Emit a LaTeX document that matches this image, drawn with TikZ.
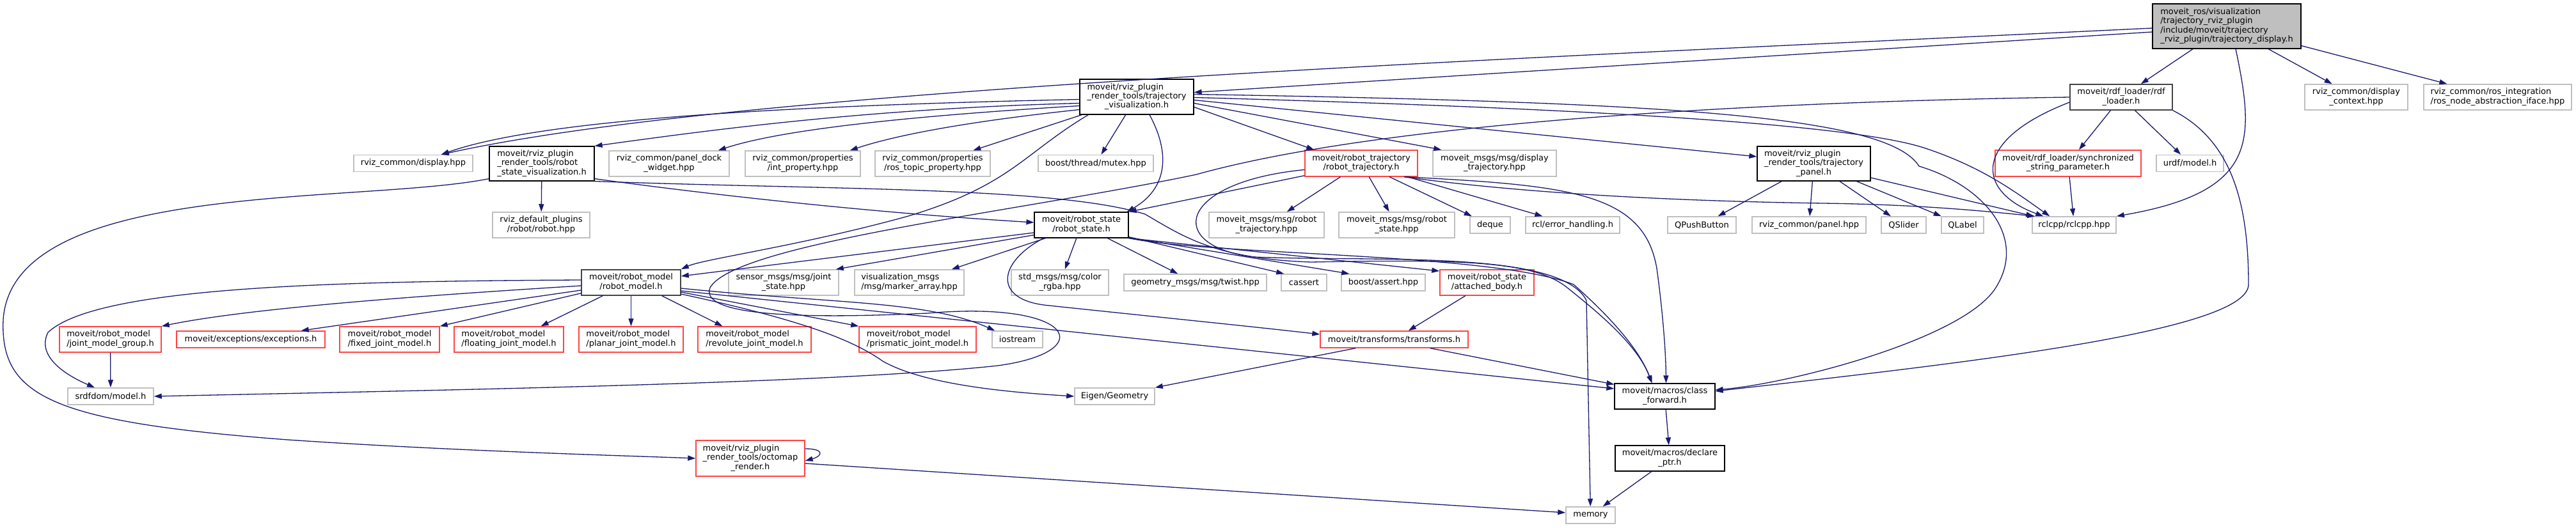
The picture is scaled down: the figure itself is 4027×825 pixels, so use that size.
\documentclass[tikz,border=0pt]{standalone}
\usepackage{fontspec}
\setmainfont{DejaVu Sans}
\usetikzlibrary{arrows.meta, calc}
\definecolor{edgeblue}{HTML}{191970}
\definecolor{boxgrey}{HTML}{BFBFBF}
\definecolor{boxred}{HTML}{FF4444}
\definecolor{boxdark}{HTML}{444444}
% lines above the last one flush left, last one centred
\newcommand{\lbl}[2]{\begin{tabular}{@{}l@{}}#1\\\multicolumn{1}{@{}c@{}}{#2}\end{tabular}}

\begin{document}
\begin{tikzpicture}[x=1pt, y=-1pt, font=\fontsize{13}{14.3}\selectfont,
  every node/.style={inner sep=0pt},
  extbox/.style={draw=boxgrey, line width=1.5pt, fill=white},
  docbox/.style={draw=black, line width=1.2pt, fill=white},
  dimbox/.style={draw=boxdark, line width=1.6pt, fill=white},
  cutbox/.style={draw=boxred, line width=1.4pt, fill=white},
  mainbox/.style={draw=black, line width=1.2pt, fill=boxgrey},
  dep/.style={draw=edgeblue, line width=1.3pt, -{Triangle[length=12pt, width=8pt]}}]
  \fill[white] (0,0) rectangle (4027,825);
  \useasboundingbox (0,0) rectangle (4027,825);

  % files with several lines
  \node[mainbox, minimum width=232pt, minimum height=70pt] (tdisp) at (3481,41)
    {\lbl{moveit\_ros/visualization\\/trajectory\_rviz\_plugin\\/include/moveit/trajectory}{\_rviz\_plugin/trajectory\_display.h}};
  \node[docbox, minimum width=178pt, minimum height=55pt] (trajvis) at (1777,151.5)
    {\lbl{moveit/rviz\_plugin\\\_render\_tools/trajectory}{\_visualization.h}};
  \node[dimbox, minimum width=160pt, minimum height=40pt] (rdf) at (3316,152)
    {\lbl{moveit/rdf\_loader/rdf}{\_loader.h}};
  \node[extbox, minimum width=161pt, minimum height=40pt] (dispctx) at (3683.5,152)
    {\lbl{rviz\_common/display}{\_context.hpp}};
  \node[extbox, minimum width=231pt, minimum height=40pt] (rosnode) at (3904.5,152)
    {\lbl{rviz\_common/ros\_integration}{/ros\_node\_abstraction\_iface.hpp}};
  \node[docbox, minimum width=164pt, minimum height=54pt] (R) at (847,256)
    {\lbl{moveit/rviz\_plugin\\\_render\_tools/robot}{\_state\_visualization.h}};
  \node[extbox, minimum width=188pt, minimum height=40pt] (dock) at (1046,256)
    {\lbl{rviz\_common/panel\_dock}{\_widget.hpp}};
  \node[extbox, minimum width=180pt, minimum height=40pt] (intprop) at (1255,256)
    {\lbl{rviz\_common/properties}{/int\_property.hpp}};
  \node[extbox, minimum width=180pt, minimum height=40pt] (topicprop) at (1458,256)
    {\lbl{rviz\_common/properties}{/ros\_topic\_property.hpp}};
  \node[cutbox, minimum width=176pt, minimum height=41pt] (rtraj) at (2128,255.5)
    {\lbl{moveit/robot\_trajectory}{/robot\_trajectory.h}};
  \node[extbox, minimum width=193pt, minimum height=41pt] (disptraj) at (2336.5,255.5)
    {\lbl{moveit\_msgs/msg/display}{\_trajectory.hpp}};
  \node[docbox, minimum width=177pt, minimum height=54pt] (panel) at (2835.5,256)
    {\lbl{moveit/rviz\_plugin\\\_render\_tools/trajectory}{\_panel.h}};
  \node[cutbox, minimum width=228pt, minimum height=41pt] (syncstr) at (3233,255.5)
    {\lbl{moveit/rdf\_loader/synchronized}{\_string\_parameter.h}};
  \node[extbox, minimum width=152pt, minimum height=40pt] (robot) at (846,352)
    {\lbl{rviz\_default\_plugins}{/robot/robot.hpp}};
  \node[docbox, minimum width=147pt, minimum height=40pt] (rstate) at (1690.5,352)
    {\lbl{moveit/robot\_state}{/robot\_state.h}};
  \node[extbox, minimum width=180pt, minimum height=40pt] (msgtraj) at (1980,352)
    {\lbl{moveit\_msgs/msg/robot}{\_trajectory.hpp}};
  \node[extbox, minimum width=181pt, minimum height=40pt] (msgstate) at (2183.5,352)
    {\lbl{moveit\_msgs/msg/robot}{\_state.hpp}};
  \node[dimbox, minimum width=155pt, minimum height=40pt] (rmodel) at (986.5,442)
    {\lbl{moveit/robot\_model}{/robot\_model.h}};
  \node[extbox, minimum width=172pt, minimum height=40pt] (jstate) at (1225,442)
    {\lbl{sensor\_msgs/msg/joint}{\_state.hpp}};
  \node[extbox, minimum width=171pt, minimum height=40pt] (marker) at (1421.5,442)
    {\lbl{visualization\_msgs}{/msg/marker\_array.hpp}};
  \node[extbox, minimum width=152pt, minimum height=40pt] (color) at (1657,442)
    {\lbl{std\_msgs/msg/color}{\_rgba.hpp}};
  \node[cutbox, minimum width=147pt, minimum height=40pt] (attached) at (2324.5,442)
    {\lbl{moveit/robot\_state}{/attached\_body.h}};
  \node[cutbox, minimum width=159pt, minimum height=40pt] (jmg) at (172.5,531)
    {\lbl{moveit/robot\_model}{/joint\_model\_group.h}};
  \node[cutbox, minimum width=156pt, minimum height=40pt] (fixed) at (609,531)
    {\lbl{moveit/robot\_model}{/fixed\_joint\_model.h}};
  \node[cutbox, minimum width=171pt, minimum height=40pt] (floating) at (795.5,531)
    {\lbl{moveit/robot\_model}{/floating\_joint\_model.h}};
  \node[cutbox, minimum width=163pt, minimum height=40pt] (planar) at (986.5,531)
    {\lbl{moveit/robot\_model}{/planar\_joint\_model.h}};
  \node[cutbox, minimum width=177pt, minimum height=40pt] (revolute) at (1179.5,531)
    {\lbl{moveit/robot\_model}{/revolute\_joint\_model.h}};
  \node[cutbox, minimum width=183pt, minimum height=40pt] (prismatic) at (1434.5,531)
    {\lbl{moveit/robot\_model}{/prismatic\_joint\_model.h}};
  \node[docbox, minimum width=157pt, minimum height=40pt] (classfwd) at (2602.5,620)
    {\lbl{moveit/macros/class}{\_forward.h}};
  \node[cutbox, minimum width=170pt, minimum height=56pt] (octo) at (1173,717)
    {\lbl{moveit/rviz\_plugin\\\_render\_tools/octomap}{\_render.h}};
  \node[docbox, minimum width=171pt, minimum height=40pt] (declptr) at (2610.5,717)
    {\lbl{moveit/macros/declare}{\_ptr.h}};

  % files on one line
  \node[cutbox, minimum width=232pt, minimum height=26pt] (except) at (392,531)
    {moveit/exceptions/exceptions.h};
  \node[cutbox, minimum width=231pt, minimum height=26pt] (transforms) at (2179.5,531)
    {moveit/transforms/transforms.h};
  \foreach \id/\x/\y/\w/\txt in {display/646/255.5/186/{rviz\_common/display.hpp},
      mutex/1713/255.5/180/{boost/thread/mutex.hpp}, urdf/3423.5/255.5/105/{urdf/model.h},
      deque/2329.5/352/63/{deque}, rclerr/2458.5/352/147/{rcl/error\_handling.h},
      qpush/2660.5/352/107/{QPushButton}, panelhpp/2828/352/178/{rviz\_common/panel.hpp},
      qslider/2976/352/70/{QSlider}, qlabel/3068/352/66/{QLabel},
      rclcpp/3242.5/352/131/{rclcpp/rclcpp.hpp}, twist/1868.5/442/223/{geometry\_msgs/msg/twist.hpp},
      cassert/2038.5/442/71/{cassert}, bassert/2162.5/442/131/{boost/assert.hpp},
      iostream/1590.5/531/79/{iostream}, srdf/173/620/134/{srdfdom/model.h},
      eigen/1742.5/620/125/{Eigen/Geometry}, memory/2486.5/806/77/{memory}}{%
    \node[extbox, minimum width=\w pt, minimum height=26pt] (\id) at (\x,\y) {\txt};}

  % trajectory_display.h
  \draw[dep] ($(tdisp.west)+(0,3)$) .. controls (2300,95) and (1150,140) .. ($(display.north east)+(-50,0)$);
  \draw[dep] ($(tdisp.west)+(0,9)$) -- ($(trajvis.east)+(0,-7)$);
  \draw[dep] (tdisp) -- (rdf);
  \draw[dep] (tdisp) -- (dispctx);
  \draw[dep] (tdisp) -- (rosnode);
  \draw[dep] ($(tdisp.south)+(14,0)$) .. controls (3525,220) and (3530,300) .. (rclcpp.north east);

  % rdf_loader.h
  \draw[dep] (rdf.west) .. controls (2700,160) and (2150,195) .. (1870,273)
    .. controls (1600,330) and (1150,380) .. (1110,450) .. controls (1090,500) and (1300,497) .. (1450,490)
    .. controls (1680,470) and (1720,550) .. (1560,572) .. controls (1300,600) and (700,610) .. (srdf.east);
  \draw[dep] (rdf) -- (syncstr);
  \draw[dep] (rdf) -- (urdf);
  \draw[dep] ($(rdf.west)+(0,8)$) .. controls (3080,220) and (3090,300) .. ($(rclcpp.north west)+(18,0)$);
  \draw[dep] (rdf.south east) .. controls (3490,220) and (3515,320) .. (3515,445)
    .. controls (3515,520) and (3050,570) .. ($(classfwd.east)+(0,-8)$);
  \draw[dep] (syncstr) -- (rclcpp);

  % trajectory_visualization.h
  \draw[dep] ($(trajvis.west)+(0,4)$) .. controls (1250,165) and (850,185) .. ($(display.north east)+(-50,0)$);
  \draw[dep] ($(trajvis.west)+(0,10)$) .. controls (1350,170) and (1100,205) .. (R.north east);
  \draw[dep] ($(trajvis.west)+(0,14)$) .. controls (1450,180) and (1230,200) .. ($(dock.north east)+(-18,0)$);
  \draw[dep] ($(trajvis.west)+(0,20)$) .. controls (1560,185) and (1420,205) .. ($(intprop.north east)+(-17,0)$);
  \draw[dep] (trajvis) -- (topicprop);
  \draw[dep] (trajvis) -- (mutex);
  \draw[dep] ($(trajvis.south)+(20,0)$) .. controls (1830,240) and (1825,295) .. ($(rstate.north east)+(-3,0)$);
  \draw[dep] ($(trajvis.south west)+(14,0)$) .. controls (1600,240) and (1580,290) .. (1420,338)
    .. controls (1250,385) and (1100,405) .. (rmodel.north east);
  \draw[dep] ($(trajvis.east)+(0,16)$) -- ($(rtraj.north west)+(15,0)$);
  \draw[dep] ($(trajvis.east)+(0,10)$) -- ($(disptraj.north west)+(14,0)$);
  \draw[dep] ($(trajvis.east)+(0,5)$) -- ($(panel.west)+(0,-11)$);
  \draw[dep] ($(trajvis.east)+(0,1)$) .. controls (2500,170) and (2900,195) .. (3010,232)
    .. controls (3100,262) and (3150,300) .. ($(rclcpp.north west)+(28,0)$);
  \draw[dep] ($(trajvis.east)+(0,-4)$) .. controls (2600,160) and (2950,180) .. (3000,260)
    .. controls (3100,290) and (3170,370) .. (3120,450) .. controls (3070,530) and (2800,600) .. ($(classfwd.east)+(0,-10)$);

  % robot_state_visualization.h
  \draw[dep] (R) -- (robot);
  \draw[dep] ($(R.south west)+(0,-4)$) .. controls (560,320) and (20,280) .. (5,500)
    .. controls (0,620) and (80,660) .. (450,688) .. controls (700,705) and (950,712) .. (octo.west);
  \draw[dep] ($(R.south east)+(0,-4)$) .. controls (1150,310) and (1400,335) .. ($(rstate.west)+(0,-4)$);
  \draw[dep] (R.south east) .. controls (1300,297) and (1650,292) .. (1790,335)
    .. controls (1850,370) and (1900,405) .. (2050,410) .. controls (2300,405) and (2400,410) .. (2450,450)
    .. controls (2500,490) and (2560,540) .. ($(classfwd.north)+(-20,0)$);

  % robot_trajectory.h
  \draw[dep] (rtraj) -- (msgtraj);
  \draw[dep] (rtraj) -- (msgstate);
  \draw[dep] (rtraj) -- (deque);
  \draw[dep] (rtraj) -- (rclerr);
  \draw[dep] ($(rtraj.south west)+(0,-2)$) -- (rstate.north east);
  \draw[dep] ($(rtraj.south east)+(-22,0)$) .. controls (2400,305) and (2650,315) .. (2850,318)
    .. controls (3000,320) and (3100,330) .. ($(rclcpp.north west)+(5,0)$);
  \draw[dep] ($(rtraj.south east)+(-20,0)$) .. controls (2450,290) and (2570,300) .. (2590,420)
    .. controls (2597,470) and (2604,540) .. ($(classfwd.north)+(2,0)$);
  \draw[dep] ($(rtraj.west)+(0,10)$) .. controls (1840,285) and (1820,385) .. (1960,402)
    .. controls (2150,410) and (2440,390) .. (2480,470) -- (memory);

  % robot_state.h
  \draw[dep] ($(rstate.west)+(0,12)$) -- ($(rmodel.east)+(0,-10)$);
  \draw[dep] ($(rstate.south west)+(0,-5)$) -- ($(jstate.north east)+(-5,0)$);
  \draw[dep] ($(rstate.south west)+(18,0)$) -- ($(marker.north east)+(-20,0)$);
  \draw[dep] (rstate) -- (color);
  \draw[dep] (rstate) -- (twist);
  \draw[dep] ($(rstate.south east)+(0,-2)$) -- ($(cassert.north west)+(5,0)$);
  \draw[dep] ($(rstate.south east)+(0,-1)$) -- ($(bassert.north west)+(13,0)$);
  \draw[dep] (rstate.south east) -- ($(attached.west)+(0,-18)$);
  \draw[dep] ($(rstate.south west)+(15,0)$) .. controls (1560,410) and (1550,470) .. (1640,478)
    .. controls (1800,495) and (1950,510) .. ($(transforms.west)+(0,-8)$);
  \draw[dep] (rstate.south east) .. controls (1900,400) and (2330,395) .. (2460,445)
    .. controls (2505,485) and (2560,540) .. ($(classfwd.north)+(-20,0)$);

  % robot_model.h
  \draw[dep] ($(rmodel.west)+(0,5)$) .. controls (700,460) and (400,480) .. (jmg.north east);
  \draw[dep] ($(rmodel.west)+(0,-4)$) .. controls (500,440) and (150,450) .. (75,520)
    .. controls (55,560) and (110,590) .. ($(srdf.north)+(-25,0)$);
  \draw[dep] ($(rmodel.west)+(0,12)$) -- ($(except.north east)+(-38,0)$);
  \draw[dep] ($(rmodel.south west)+(0,-4)$) -- (fixed.north east);
  \draw[dep] ($(rmodel.south west)+(34,0)$) -- ($(floating.north)+(50,0)$);
  \draw[dep] (rmodel) -- (planar);
  \draw[dep] ($(rmodel.south east)+(-30,0)$) -- ($(revolute.north)+(-50,0)$);
  \draw[dep] ($(rmodel.east)+(0,15)$) -- (prismatic.north west);
  \draw[dep] ($(rmodel.east)+(0,9)$) .. controls (1300,475) and (1450,470) .. ($(iostream.north west)+(5,0)$);
  \draw[dep] ($(rmodel.east)+(0,18)$) .. controls (1250,500) and (1330,530) .. (1380,565)
    .. controls (1450,605) and (1600,615) .. (eigen.west);
  \draw[dep] ($(rmodel.east)+(0,13)$) -- ($(classfwd.west)+(0,-12)$);

  % the rest
  \draw[dep] (jmg) -- (srdf);
  \draw[dep] (attached) -- (transforms);
  \draw[dep] ($(transforms.south west)+(56,0)$) -- (eigen.north east);
  \draw[dep] ($(transforms.south east)+(-60,0)$) -- ($(classfwd.north west)+(0,2)$);
  \draw[dep] (classfwd) -- (declptr);
  \draw[dep] (declptr) -- (memory);
  \draw[dep] ($(octo.east)+(0,8)$) -- ($(memory.west)+(0,-4)$);
  \draw[dep] ($(octo.east)+(0,-15)$) .. controls +(30,0) and +(28,-8) .. ($(octo.east)+(0,4)$);
  \draw[dep] (panel) -- (qpush);
  \draw[dep] (panel) -- (panelhpp);
  \draw[dep] (panel) -- (qslider);
  \draw[dep] (panel) -- (qlabel);
  \draw[dep] ($(panel.east)+(0,22)$) -- ($(rclcpp.north west)+(3,0)$);
\end{tikzpicture}
\end{document}
